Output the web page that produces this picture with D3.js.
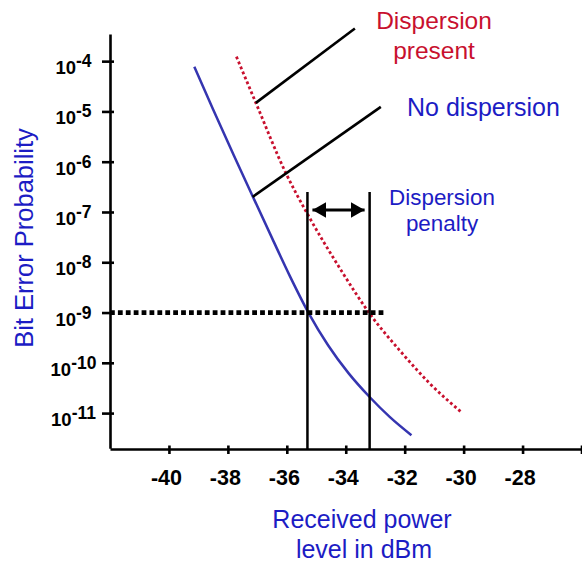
<!DOCTYPE html>
<html>
<head>
<meta charset="utf-8">
<script src="https://cdn.jsdelivr.net/npm/d3@7"></script>
<style>
  body { margin: 0; background: #fff; }
  svg { display: block; font-family: "Liberation Sans", Arial, sans-serif; }
</style>
</head>
<body>
<svg id="chartSVG" width="582" height="562"></svg>
<script>
/* ---------- Data (power in dBm, BER as log10 exponent) ---------- */
const xTicks = [-40, -38, -36, -34, -32, -30, -28];
const yExponents = [-4, -5, -6, -7, -8, -9, -10, -11];

// no dispersion curve
const blueDbm = [-39.14, -38.5, -37.8, -37.14, -36.5, -35.9, -35.25, -34.6, -33.9, -33.19, -32.5, -31.77];
const blueLogBer = [-4.11, -4.96, -5.87, -6.71, -7.52, -8.27, -9.02, -9.65, -10.21, -10.68, -11.08, -11.44];

// dispersion present curve
const redDbm = [-37.71, -37.05, -36.03, -35.28, -34.2, -33.19, -32.1, -31.15, -30.06];
const redLogBer = [-3.91, -4.83, -6.23, -7.06, -8.12, -9.02, -9.80, -10.41, -10.99];

// reference BER and the two receiver sensitivities
const refLogBer = -9;
const refLineEnd = -32.62;
const sensitivity = [-35.3, -33.19];
const sensitivityTop = -6.6;
const arrowLogBer = -6.96;
const arrowEnds = [-35.13, -33.36];

// leader lines [x1, logBer1, x2, logBer2]
const leaders = [
    [-37.05, -4.83, -33.69, -3.35],
    [-37.16, -6.70, -32.81, -4.91]
];

const blueCol = "#3535b0";
const blueText = "#1c1cc4";
const redCol = "#c8102e";

var svg = d3.select("#chartSVG");

/* ---------- Scales and Axis ---------- */
var xScale = d3.scaleLinear().domain([-42, -26]).range([110, 581.5]);
var yScale = d3.scaleLog().domain([Math.pow(10, -11.7), Math.pow(10, -3.46)]).range([448.3, 34]);
var yv = e => yScale(Math.pow(10, e));

var xAxis = d3.axisBottom(xScale).tickValues(xTicks.concat([-26])).tickSizeOuter(0).tickFormat("");
var gx = svg.append("g").attr("transform", "translate(0,449)").call(xAxis);
gx.select(".domain").attr("stroke", "#000").attr("stroke-width", 2.6);
gx.selectAll(".tick line").attr("y1", -3.5).attr("y2", 5).attr("stroke", "#000").attr("stroke-width", 2.6);
gx.selectAll(".tick").filter(d => d !== -26).append("text")
    .text(d => d)
    .attr("y", 35.5).attr("dx", -3)
    .attr("fill", "#000").attr("font-size", 21.5).attr("font-weight", "bold")
    .attr("text-anchor", "middle").attr("font-family", "Liberation Sans, Arial, sans-serif");

var yAxis = d3.axisLeft(yScale).tickValues(yExponents.map(e => Math.pow(10, e))).tickSizeOuter(0).tickFormat("");
var gy = svg.append("g").attr("transform", "translate(110,0)").call(yAxis);
gy.select(".domain").attr("stroke", "#000").attr("stroke-width", 2.6);
gy.selectAll(".tick line").attr("x1", 4).attr("x2", -8).attr("stroke", "#000").attr("stroke-width", 2.6);
var lbl = gy.selectAll(".tick").append("text")
    .attr("x", -36.5).attr("y", 12.5)
    .attr("fill", "#000").attr("font-size", 18.5).attr("font-weight", "bold")
    .attr("text-anchor", "middle").attr("font-family", "Liberation Sans, Arial, sans-serif");
lbl.append("tspan").text("10");
lbl.append("tspan").text(d => Math.round(Math.log10(d))).attr("dy", -7).attr("font-size", 17.5);

/* ---------- Axis Caption ---------- */
svg.append("text")
    .text("Bit Error Probability")
    .attr("fill", blueText).attr("font-size", 25.5)
    .attr("text-anchor", "middle")
    .attr("transform", "translate(33,238) rotate(-90)");
var xTitle = svg.append("text").attr("fill", blueText).attr("font-size", 25).attr("text-anchor", "middle");
xTitle.append("tspan").attr("x", 362).attr("y", 528).text("Received power");
xTitle.append("tspan").attr("x", 364).attr("y", 558).text("level in dBm");

/* ---------- Curves ---------- */
var line = d3.line().x(d => xScale(d[0])).y(d => yv(d[1])).curve(d3.curveMonotoneX);
svg.append("path")
    .attr("d", line(d3.zip(blueDbm, blueLogBer)))
    .attr("fill", "none").attr("stroke", blueCol).attr("stroke-width", 2.5);
svg.append("path")
    .attr("d", line(d3.zip(redDbm, redLogBer)))
    .attr("fill", "none").attr("stroke", redCol).attr("stroke-width", 2.8)
    .attr("stroke-dasharray", "2.8,2.6");

/* ---------- Reference BER line and sensitivities ---------- */
svg.append("line")
    .attr("x1", xScale(-42)).attr("x2", xScale(refLineEnd))
    .attr("y1", yv(refLogBer)).attr("y2", yv(refLogBer))
    .attr("stroke", "#000").attr("stroke-width", 4.8).attr("stroke-dasharray", "4.8,3.1");

sensitivity.forEach(s => {
    svg.append("line")
        .attr("x1", xScale(s)).attr("x2", xScale(s))
        .attr("y1", yv(sensitivityTop)).attr("y2", 449)
        .attr("stroke", "#000").attr("stroke-width", 2.5);
});

var defs = svg.append("defs");
defs.append("marker")
    .attr("id", "head").attr("markerUnits", "userSpaceOnUse")
    .attr("viewBox", "0 0 14 16").attr("refX", 14).attr("refY", 8)
    .attr("markerWidth", 14).attr("markerHeight", 16).attr("orient", "auto-start-reverse")
    .append("path").attr("d", "M0,0 L14,8 L0,16 Z").attr("fill", "#000");
svg.append("line")
    .attr("x1", xScale(arrowEnds[0])).attr("x2", xScale(arrowEnds[1]))
    .attr("y1", yv(arrowLogBer)).attr("y2", yv(arrowLogBer))
    .attr("stroke", "#000").attr("stroke-width", 3)
    .attr("marker-start", "url(#head)").attr("marker-end", "url(#head)");

/* ---------- Leader lines and labels ---------- */
leaders.forEach(l => {
    svg.append("line")
        .attr("x1", xScale(l[0])).attr("y1", yv(l[1]))
        .attr("x2", xScale(l[2])).attr("y2", yv(l[3]))
        .attr("stroke", "#000").attr("stroke-width", 2.6);
});

var t1 = svg.append("text").attr("fill", redCol).attr("font-size", 24.5).attr("text-anchor", "middle");
t1.append("tspan").attr("x", 434).attr("y", 29).text("Dispersion");
t1.append("tspan").attr("x", 434).attr("y", 59).text("present");

svg.append("text").attr("fill", blueText).attr("font-size", 25)
    .attr("text-anchor", "middle").attr("x", 483.5).attr("y", 116).text("No dispersion");

var t3 = svg.append("text").attr("fill", blueText).attr("font-size", 22.4).attr("text-anchor", "middle");
t3.append("tspan").attr("x", 442).attr("y", 205).text("Dispersion");
t3.append("tspan").attr("x", 442).attr("y", 231).text("penalty");
</script>
</body>
</html>
